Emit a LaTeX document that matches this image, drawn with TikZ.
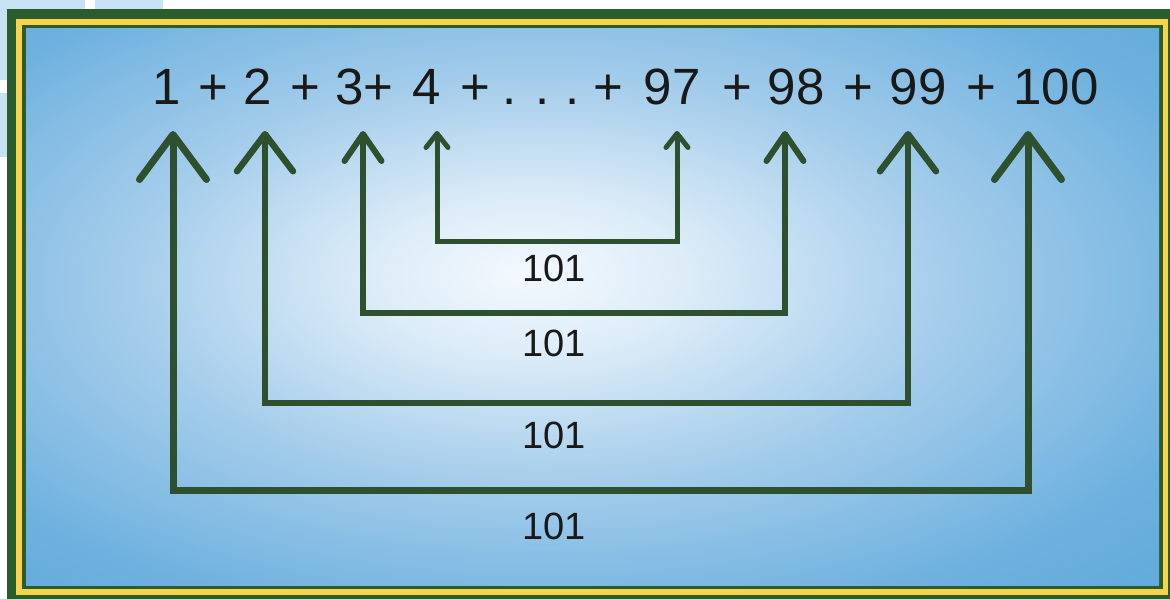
\documentclass[tikz,border=0pt]{standalone}
\usepackage{fontspec}
\setmainfont{Liberation Sans}
\usepackage{tikz}
\usetikzlibrary{arrows.meta, calc}
\usepackage{xcolor}

\definecolor{framegreen}{RGB}{43,92,45}
\definecolor{frameyellow}{RGB}{250,212,72}
\definecolor{arrowgreen}{RGB}{46,80,46}
\definecolor{paleblue}{RGB}{200,225,243}
\definecolor{glowwhite}{RGB}{244,249,253}
\definecolor{glowlight}{RGB}{220,236,248}
\definecolor{glowmid}{RGB}{165,205,235}
\definecolor{glowdeep}{RGB}{110,177,223}
\definecolor{edgeblue}{RGB}{88,165,216}

\pgfdeclareradialshading{glow}{\pgfpoint{-3bp}{3bp}}{%
  color(0bp)=(glowwhite); color(7bp)=(glowlight); color(18bp)=(glowmid);
  color(31bp)=(glowdeep); color(43bp)=(edgeblue); color(80bp)=(edgeblue)}

\tikzset{
  term/.style={font=\fontsize{51}{53}\selectfont, anchor=base, inner sep=0pt, text=black!90},
  sumlabel/.style={font=\fontsize{38}{40}\selectfont, inner sep=0pt, text=black!90},
  bracket/.style={draw=arrowgreen, line join=miter}
}

\begin{document}
\begin{tikzpicture}[x=1pt, y=-1pt]
    \useasboundingbox (0,0) rectangle (1170,599);
    \fill[white] (0,0) rectangle (1170,599);

    % page bits behind the frame
    \fill[paleblue] (0,0) rectangle (85,80);
    \fill[paleblue] (95,0) rectangle (163,20);
    \fill[paleblue] (0,93) rectangle (85,157);

    % Frame
    \fill[framegreen] (7,9) rectangle (1170,599);
    \fill[frameyellow] (16,19) rectangle (1168,595);
    \fill[framegreen] (22,25) rectangle (1163,589);
    \shade[shading=glow] (26,29) rectangle (1159,585);

    % Sum terms
    \foreach \x/\t [count=\i] in {167/1, 213/+, 258/2, 305/+, 350/3, 378/+, 427/4, 475/+,
        510/., 543/., 573/., 608/+, 672/97, 737/+, 796/98, 858/+, 918/99, 981/+, 1056/100}
        \node[term] (term\i) at (\x,105) {\t};

    % Pairs adding up to 101
    \foreach \xl/\xr/\drop/\len/\wid/\lw/\ly [count=\k] in {
        437/677/110/14/22/5/268,
        363/785/182/27/37/6/343,
        265/908/272/37/56/6.5/435,
        173/1028/359/45/67/7/526} {
        \coordinate (left\k) at (\xl,131);
        \coordinate (right\k) at (\xr,131);
        \draw[bracket, line width=\lw pt,
            {Straight Barb[length=\len pt, width=\wid pt, round]}-{Straight Barb[length=\len pt, width=\wid pt, round]}]
            (left\k) -- ++(0,\drop) -| (right\k);
        \node[sumlabel] (sum\k) at (554,\ly) {101};
    }
\end{tikzpicture}
\end{document}
